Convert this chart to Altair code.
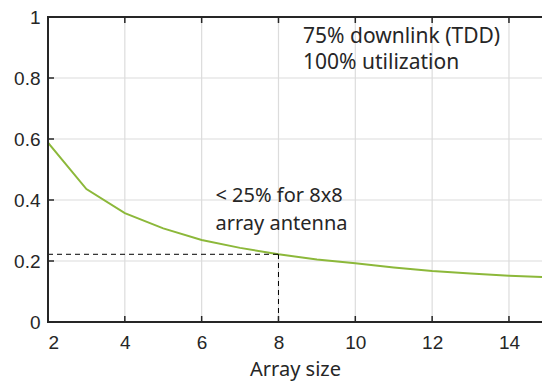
import altair as alt
import pandas as pd

# Fraction curve vs. array size
array_size = [2, 3, 4, 5, 6, 7, 8, 9, 10, 11, 12, 13, 14, 15]
fraction = [0.588, 0.436, 0.357, 0.307, 0.269, 0.243, 0.222, 0.205, 0.193, 0.179,
            0.167, 0.159, 0.152, 0.147]

x_ticks = [2, 4, 6, 8, 10, 12, 14]
y_ticks = [0, 0.2, 0.4, 0.6, 0.8, 1.0]
x_grid = [4, 6, 8, 10, 12, 14]
y_grid = [0.2, 0.4, 0.6, 0.8]

# Reference level marked at 8x8
ref_x = 8
ref_y = 0.222

note_top = ["75% downlink (TDD)", "100% utilization"]
note_top_x = [8.64, 8.64]
note_top_y = [0.934, 0.849]

note_mid = ["< 25% for 8x8", "array antenna"]
note_mid_x = [6.36, 6.36]
note_mid_y = [0.412, 0.322]

X_MAX = 14.86
W, H = 494, 305
FRAME = "#262626"
TEXT = "#262626"
GRID = "#dcdcdc"
LABEL_FONT = "Liberation Sans"
NOTE_FONT = "Noto Sans"

# half widths of the frame strokes and tick marks, in data units
PX_X = (X_MAX - 2) / W
PX_Y = 1.0 / H
FW_X, FW_Y = 1.0 * PX_X, 1.0 * PX_Y
TW_X, TW_Y = 0.75 * PX_X, 0.75 * PX_Y
TICK_LEN_X, TICK_LEN_Y = 6 * PX_X, 6 * PX_Y

xs = alt.Scale(domain=[2, X_MAX], nice=False, zero=False)
ys = alt.Scale(domain=[0, 1], nice=False)

curve_df = pd.DataFrame({"size": array_size, "frac": fraction})

base_x = alt.X(
    "size:Q", scale=xs,
    axis=alt.Axis(values=x_ticks, title="Array size", tickSize=0,
                  labelPadding=11, titlePadding=7, format="d", grid=False,
                  domain=False),
)
base_y = alt.Y(
    "frac:Q", scale=ys,
    axis=alt.Axis(values=y_ticks, title=None, tickSize=0, labelPadding=8, grid=False,
                  domain=False,
                  labelExpr="datum.value == 0 ? '0' : datum.value == 1 ? '1' : format(datum.value, '.1f')"),
)

# Interior grid lines
xg_df = pd.DataFrame({"x": x_grid})
x_gridlines = alt.Chart(xg_df).mark_rule(color=GRID, strokeWidth=1.2).encode(
    x=alt.X("x:Q", scale=xs)
)
yg_df = pd.DataFrame({"y": y_grid})
y_gridlines = alt.Chart(yg_df).mark_rule(color=GRID, strokeWidth=1.2).encode(
    y=alt.Y("y:Q", scale=ys)
)

curve = alt.Chart(curve_df).mark_line(color="#8cb83a", strokeWidth=2, clip=True).encode(
    x=base_x, y=base_y
)

# Dashed guides at the 8x8 point
guide_df = pd.DataFrame({
    "x": [2, ref_x], "x2": [ref_x, ref_x],
    "y": [ref_y, 0], "y2": [ref_y, ref_y],
})
guides = alt.Chart(guide_df).mark_rule(color="black", strokeWidth=1, strokeDash=[5, 4]).encode(
    x=alt.X("x:Q", scale=xs), x2="x2:Q",
    y=alt.Y("y:Q", scale=ys), y2="y2:Q",
)

# Box frame (left, bottom, top) and inward ticks as thin filled bands
rows = [
    (2 - FW_X, 2 + FW_X, -FW_Y, 1 + FW_Y),          # left edge
    (2 - FW_X, X_MAX, -FW_Y, FW_Y),                  # bottom edge
    (2 - FW_X, X_MAX, 1 - FW_Y, 1 + FW_Y),           # top edge
]
for t in x_ticks:
    rows.append((t - TW_X, t + TW_X, 0, TICK_LEN_Y))
    rows.append((t - TW_X, t + TW_X, 1 - TICK_LEN_Y, 1))
for t in y_ticks:
    rows.append((2, 2 + TICK_LEN_X, t - TW_Y, t + TW_Y))
frame_df = pd.DataFrame(rows, columns=["x", "x2", "y", "y2"])
frame = alt.Chart(frame_df).mark_rect(color=FRAME, strokeWidth=0).encode(
    x=alt.X("x:Q", scale=xs), x2="x2:Q",
    y=alt.Y("y:Q", scale=ys), y2="y2:Q",
)

top_df2 = pd.DataFrame({"t": note_top, "x": note_top_x, "y": note_top_y})
top_text = alt.Chart(top_df2).mark_text(
    align="left", baseline="middle", font=NOTE_FONT, fontSize=21, color=TEXT
).encode(x=alt.X("x:Q", scale=xs), y=alt.Y("y:Q", scale=ys), text="t:N")

mid_df = pd.DataFrame({"t": note_mid, "x": note_mid_x, "y": note_mid_y})
mid_text = alt.Chart(mid_df).mark_text(
    align="left", baseline="middle", font=NOTE_FONT, fontSize=20, color=TEXT
).encode(x=alt.X("x:Q", scale=xs), y=alt.Y("y:Q", scale=ys), text="t:N")

chart = alt.layer(
    x_gridlines, y_gridlines, curve, guides, frame, top_text, mid_text
).properties(
    width=W, height=H,
    autosize=alt.AutoSizeParams(type="none"),
    padding={"left": 48, "top": 17, "right": 0, "bottom": 59},
    background="white",
).configure_view(
    stroke=None
).configure_axis(
    labelFont=LABEL_FONT, labelFontSize=19, labelColor=TEXT,
    titleFont=NOTE_FONT, titleFontSize=20, titleColor=TEXT, titleFontWeight="normal",
)

chart.save("out.html", embed_options={"renderer": "svg", "actions": False})
